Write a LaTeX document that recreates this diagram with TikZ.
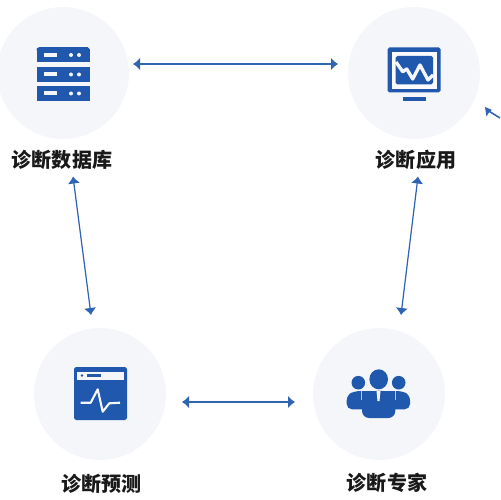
\documentclass[tikz,border=0pt]{standalone}
\usepackage{fontspec}
\setmainfont{Noto Sans CJK SC}
\usetikzlibrary{arrows.meta}
\definecolor{bcol}{HTML}{2058AE}
\definecolor{ccol}{HTML}{F5F6FA}
\definecolor{acol}{HTML}{2F64B4}
\tikzset{
  disc/.style={circle, fill=ccol, minimum size=2.64cm, inner sep=0pt},
  lab/.style={font=\fontsize{11.4pt}{13pt}\selectfont\bfseries, text=black!90},
  link/.style={{Latex[length=1.4mm,width=2.5mm]}-{Latex[length=1.4mm,width=2.5mm]}, acol, line width=0.7pt},
  icon/.style={fill=bcol, draw=none},
  gap/.style={fill=ccol, draw=none}
}
\begin{document}
\begin{tikzpicture}[x=0.02cm, y=-0.02cm]
\useasboundingbox (0,0) rectangle (500,500);
% discs
\node[disc] (base) at (63,73) {};
\node[disc] (apply) at (414,73) {};
\node[disc] (fore) at (100,394) {};
\node[disc] (team) at (379,394) {};
% labels
\node[lab] (baselab) at (62,160) {诊断数据库};
\node[lab] (applylab) at (416,160) {诊断应用};
\node[lab] (forelab) at (101.5,484) {诊断预测};
\node[lab] (teamlab) at (387,483) {诊断专家};
% connector ends
\coordinate (a1) at (133,64);
\coordinate (a2) at (338,64);
\coordinate (b1) at (73,176.5);
\coordinate (b2) at (91,315);
\coordinate (c1) at (418,176.5);
\coordinate (c2) at (401,315);
\coordinate (d1) at (182,402);
\coordinate (d2) at (295,402);
\coordinate (e1) at (487,110);
\coordinate (e2) at (500,118);
\draw[link] (a1) -- (a2);
\draw[link] (b1) -- (b2);
\draw[link] (c1) -- (c2);
\draw[link] (d1) -- (d2);
\draw[acol, line width=0.9pt] (e1) -- (e2);
\fill[acol] (485,107) -- (492,110) -- (489.5,111.5) -- (486.5,116.5) -- cycle;
% server icon
\foreach \y in {47.5,67,86} {
  \fill[icon] (36.5,\y) rectangle (89.5,\y+15);
  \fill[ccol] (44,\y+5.5) rectangle (57,\y+9.5);
  \fill[ccol] (71,\y+7.5) circle (2);
  \fill[ccol] (79,\y+7.5) circle (2);
}
\fill[ccol] (36.5,47.5) rectangle (38.5,49.5);
\fill[ccol] (87.5,47.5) rectangle (89.5,49.5);
\fill[icon] (38.5,49.5) circle (2);
\fill[icon] (87.5,49.5) circle (2);
% monitor icon
\fill[icon, rounded corners=1pt] (387.5,47.5) rectangle (440.5,92.5);
\fill[white!60!ccol] (391.5,52) rectangle (436.5,89);
\fill[icon, rounded corners=1pt] (395.5,56) rectangle (433,84.5);
\draw[ccol, line width=1.9pt, line join=round] (396,62) -- (402.7,71.7) -- (406.7,69) -- (412.7,79) -- (420,65) -- (428,80) -- (433,75);
\fill[icon] (402.7,97.3) rectangle (426,100.7);
% forecast icon
\fill[icon, rounded corners=1pt] (74,367) rectangle (127,420);
\fill[ccol] (77.3,371.7) rectangle (124,380);
\fill[icon] (82,375.5) circle (1.4);
\fill[icon] (87.3,374) rectangle (101,376.8);
\draw[ccol, line width=1.2pt, line join=round] (80.7,402.7) -- (90.7,402.7) -- (97.7,389.3) -- (102.7,411.7) -- (109.3,403.3) -- (120,402.7);
% people icon
\fill[icon] (358.3,382.7) circle (6.8);
\fill[icon] (398.7,382.7) circle (6.8);
\fill[icon, rounded corners=3pt] (346.7,409.3) -- (346.7,395) -- (355,391) -- (402,391) -- (410,395) -- (410,409.3) -- cycle;
\fill[icon] (378.7,379.3) ellipse (9.3 and 10);
\draw[ccol!70!bcol, line width=0.6pt] (361.5,391) -- (361.5,400);
\draw[ccol!70!bcol, line width=0.6pt] (395.8,391) -- (395.8,400);
\fill[icon, rounded corners=4pt] (362,418) -- (362,396) -- (372,390.7) -- (386,390.7) -- (395.3,396) -- (395.3,418) -- cycle;
\fill[ccol] (376.5,391) -- (380.5,391) -- (379.5,401) -- (377.5,401) -- cycle;
\end{tikzpicture}
\end{document}
